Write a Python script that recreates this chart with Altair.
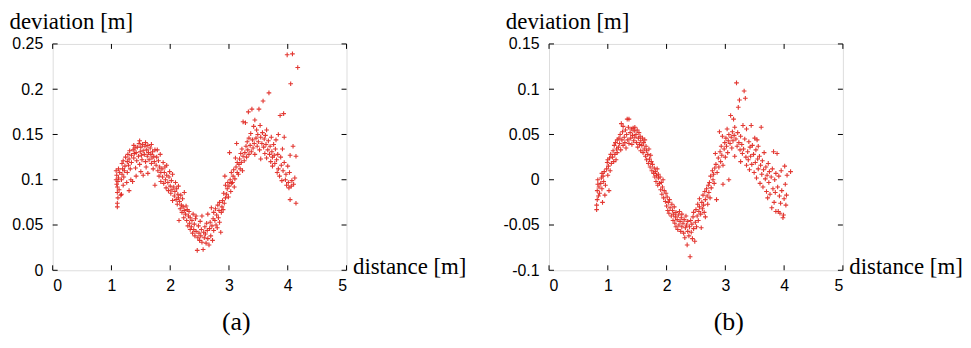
import altair as alt
import pandas as pd

# ---------------- data ----------------
a_dist = [
    1.08, 1.08, 1.09, 1.09, 1.10, 1.10, 1.10, 1.10, 1.11, 1.11, 1.12, 1.12, 1.13, 1.14,
    1.16, 1.17, 1.17, 1.18, 1.18, 1.19, 1.20, 1.20, 1.21, 1.22, 1.23, 1.24,
    1.26, 1.27, 1.27, 1.28, 1.29, 1.30, 1.30, 1.31, 1.32, 1.33, 1.34, 1.34,
    1.36, 1.37, 1.38, 1.38, 1.39, 1.40, 1.41, 1.42, 1.42, 1.43, 1.44,
    1.46, 1.47, 1.48, 1.48, 1.49, 1.50, 1.50, 1.51, 1.52, 1.53, 1.54, 1.54,
    1.56, 1.57, 1.58, 1.58, 1.59, 1.60, 1.61, 1.62, 1.62, 1.63, 1.64,
    1.66, 1.67, 1.68, 1.68, 1.69, 1.70, 1.71, 1.72, 1.73, 1.74, 1.74,
    1.76, 1.77, 1.78, 1.79, 1.80, 1.81, 1.82, 1.83, 1.84, 1.84,
    1.86, 1.87, 1.88, 1.89, 1.90, 1.91, 1.92, 1.93, 1.94, 1.94,
    1.96, 1.97, 1.98, 1.99, 2.00, 2.01, 2.02, 2.03, 2.04, 2.04,
    2.06, 2.07, 2.08, 2.09, 2.10, 2.11, 2.12, 2.13, 2.14, 2.14,
    2.16, 2.17, 2.18, 2.19, 2.20, 2.21, 2.22, 2.23, 2.24, 2.24, 2.15,
    2.26, 2.27, 2.28, 2.29, 2.30, 2.31, 2.32, 2.33, 2.34, 2.34,
    2.36, 2.37, 2.38, 2.39, 2.40, 2.41, 2.42, 2.43, 2.44, 2.44,
    2.46, 2.47, 2.48, 2.49, 2.50, 2.51, 2.52, 2.53, 2.54, 2.54,
    2.56, 2.57, 2.58, 2.59, 2.60, 2.61, 2.62, 2.63, 2.64, 2.64,
    2.66, 2.67, 2.68, 2.69, 2.70, 2.71, 2.72, 2.73, 2.74, 2.74,
    2.76, 2.77, 2.78, 2.79, 2.80, 2.81, 2.82, 2.83, 2.84, 2.84,
    2.86, 2.87, 2.88, 2.89, 2.90, 2.91, 2.92, 2.93, 2.94, 2.94,
    2.96, 2.97, 2.98, 2.99, 3.00, 3.01, 3.02, 3.03, 3.04, 3.04,
    3.06, 3.07, 3.08, 3.09, 3.10, 3.11, 3.12, 3.13, 3.14, 3.14,
    3.16, 3.17, 3.18, 3.19, 3.20, 3.21, 3.22, 3.23, 3.24, 3.24,
    3.26, 3.27, 3.28, 3.29, 3.30, 3.31, 3.32, 3.33, 3.34, 3.34,
    3.36, 3.37, 3.38, 3.39, 3.40, 3.41, 3.42, 3.43, 3.44, 3.44,
    3.46, 3.47, 3.48, 3.49, 3.50, 3.51, 3.52, 3.53, 3.54, 3.54,
    3.56, 3.57, 3.58, 3.59, 3.60, 3.61, 3.62, 3.63, 3.64, 3.64,
    3.66, 3.67, 3.68, 3.69, 3.70, 3.71, 3.72, 3.73, 3.74, 3.74,
    3.76, 3.77, 3.78, 3.79, 3.80, 3.81, 3.82, 3.83, 3.84, 3.84,
    3.86, 3.87, 3.88, 3.89, 3.90, 3.91, 3.92, 3.93, 3.94, 3.94,
    3.96, 3.97, 3.98, 3.99, 4.00, 4.01, 4.02, 4.03, 4.04, 4.04,
    4.05, 4.06, 4.07, 4.08, 4.09, 4.10, 4.12, 4.14, 4.14, 4.17,
]
a_dev = [
    0.100, 0.110, 0.095, 0.105, 0.070, 0.074, 0.086, 0.092, 0.080, 0.098, 0.102, 0.112, 0.089, 0.108,
    0.083, 0.084, 0.100, 0.106, 0.118, 0.112, 0.094, 0.121, 0.103, 0.110, 0.115, 0.125,
    0.097, 0.108, 0.120, 0.128, 0.116, 0.088, 0.123, 0.132, 0.112, 0.100, 0.127, 0.119,
    0.098, 0.133, 0.138, 0.124, 0.129, 0.135, 0.113, 0.104, 0.130, 0.121, 0.136,
    0.126, 0.140, 0.143, 0.117, 0.131, 0.136, 0.109, 0.127, 0.122, 0.139, 0.132, 0.105,
    0.128, 0.137, 0.141, 0.120, 0.114, 0.133, 0.126, 0.107, 0.138, 0.130, 0.122,
    0.135, 0.128, 0.118, 0.139, 0.124, 0.131, 0.112, 0.126, 0.120, 0.094, 0.133,
    0.116, 0.125, 0.133, 0.110, 0.121, 0.104, 0.114, 0.128, 0.108, 0.098,
    0.112, 0.103, 0.119, 0.096, 0.108, 0.114, 0.100, 0.091, 0.105, 0.116,
    0.097, 0.088, 0.103, 0.109, 0.093, 0.085, 0.099, 0.089, 0.106, 0.077,
    0.092, 0.082, 0.087, 0.097, 0.078, 0.090, 0.073, 0.084, 0.080, 0.093,
    0.076, 0.068, 0.083, 0.072, 0.064, 0.079, 0.070, 0.058, 0.066, 0.086, 0.055,
    0.062, 0.071, 0.055, 0.067, 0.049, 0.060, 0.065, 0.052, 0.058, 0.045,
    0.048, 0.055, 0.041, 0.062, 0.045, 0.051, 0.038, 0.057, 0.043, 0.060,
    0.022, 0.036, 0.049, 0.041, 0.033, 0.054, 0.038, 0.045, 0.031, 0.060,
    0.023, 0.042, 0.036, 0.048, 0.040, 0.030, 0.052, 0.044, 0.062, 0.035,
    0.028, 0.046, 0.053, 0.038, 0.069, 0.049, 0.033, 0.057, 0.044, 0.064,
    0.055, 0.068, 0.050, 0.061, 0.047, 0.072, 0.058, 0.066, 0.053, 0.075,
    0.042, 0.064, 0.070, 0.077, 0.067, 0.085, 0.074, 0.104, 0.080, 0.094,
    0.084, 0.090, 0.097, 0.081, 0.093, 0.130, 0.100, 0.087, 0.108, 0.096,
    0.097, 0.104, 0.111, 0.092, 0.101, 0.124, 0.114, 0.140, 0.108, 0.119,
    0.106, 0.117, 0.123, 0.112, 0.129, 0.119, 0.134, 0.110, 0.126, 0.164,
    0.121, 0.130, 0.163, 0.137, 0.125, 0.142, 0.133, 0.175, 0.146, 0.128,
    0.138, 0.151, 0.131, 0.178, 0.144, 0.135, 0.159, 0.140, 0.166, 0.128,
    0.146, 0.155, 0.137, 0.150, 0.142, 0.178, 0.133, 0.160, 0.147, 0.123,
    0.140, 0.152, 0.187, 0.136, 0.145, 0.129, 0.149, 0.139, 0.124, 0.155,
    0.133, 0.143, 0.196, 0.128, 0.137, 0.120, 0.147, 0.131, 0.115, 0.125,
    0.139, 0.127, 0.118, 0.134, 0.144, 0.122, 0.108, 0.128, 0.150, 0.112,
    0.104, 0.171, 0.125, 0.116, 0.099, 0.134, 0.110, 0.173, 0.119, 0.147,
    0.100, 0.106, 0.094, 0.238, 0.115, 0.097, 0.091, 0.108, 0.078, 0.127,
    0.206, 0.093, 0.099, 0.239, 0.137, 0.095, 0.102, 0.126, 0.074, 0.224,
]

b_dist = [
    0.81, 0.81, 0.82, 0.82, 0.83, 0.83, 0.84, 0.85, 0.86,
    0.88, 0.89, 0.90, 0.90, 0.91, 0.92, 0.93, 0.94, 0.95, 0.96,
    0.98, 0.99, 1.00, 1.00, 1.01, 1.02, 1.03, 1.04, 1.05, 1.06,
    1.08, 1.09, 1.10, 1.11, 1.12, 1.13, 1.14, 1.15, 1.16, 1.16,
    1.18, 1.19, 1.20, 1.21, 1.22, 1.23, 1.24, 1.25, 1.26, 1.26,
    1.28, 1.29, 1.30, 1.31, 1.32, 1.33, 1.34, 1.35, 1.36, 1.36,
    1.38, 1.39, 1.40, 1.41, 1.42, 1.43, 1.44, 1.45, 1.46, 1.46,
    1.48, 1.49, 1.50, 1.51, 1.52, 1.53, 1.54, 1.55, 1.56, 1.56,
    1.58, 1.59, 1.60, 1.61, 1.62, 1.63, 1.64, 1.65, 1.66, 1.66,
    1.68, 1.69, 1.70, 1.71, 1.72, 1.73, 1.74, 1.75, 1.76,
    1.78, 1.79, 1.80, 1.81, 1.82, 1.83, 1.84, 1.85, 1.86, 1.86,
    1.88, 1.89, 1.90, 1.91, 1.92, 1.93, 1.94, 1.95, 1.96,
    1.98, 1.99, 2.00, 2.01, 2.02, 2.03, 2.04, 2.05, 2.06,
    2.08, 2.09, 2.10, 2.11, 2.12, 2.13, 2.14, 2.15, 2.16, 2.16,
    2.18, 2.19, 2.20, 2.21, 2.22, 2.23, 2.24, 2.25, 2.26, 2.26,
    2.28, 2.29, 2.30, 2.31, 2.32, 2.33, 2.34, 2.35, 2.36, 2.36,
    2.38, 2.39, 2.40, 2.41, 2.42, 2.43, 2.44, 2.45, 2.46, 2.46,
    2.48, 2.49, 2.50, 2.51, 2.52, 2.53, 2.54, 2.55, 2.56, 2.56,
    2.58, 2.59, 2.60, 2.61, 2.62, 2.63, 2.64, 2.65, 2.66, 2.66,
    2.68, 2.69, 2.70, 2.71, 2.72, 2.73, 2.74, 2.75, 2.76,
    2.78, 2.79, 2.80, 2.81, 2.82, 2.83, 2.84, 2.85, 2.86,
    2.88, 2.89, 2.90, 2.91, 2.92, 2.93, 2.94, 2.95, 2.96, 2.96,
    2.98, 2.99, 3.00, 3.01, 3.02, 3.03, 3.04, 3.05, 3.06, 3.06,
    3.08, 3.09, 3.10, 3.11, 3.12, 3.13, 3.14, 3.15, 3.16, 3.16,
    3.18, 3.19, 3.20, 3.21, 3.22, 3.23, 3.24, 3.25, 3.26, 3.26,
    3.28, 3.29, 3.30, 3.31, 3.32, 3.33, 3.34, 3.35, 3.36, 3.36,
    3.38, 3.39, 3.40, 3.41, 3.42, 3.43, 3.44, 3.45, 3.46,
    3.48, 3.49, 3.50, 3.51, 3.52, 3.53, 3.54, 3.55, 3.56, 3.56,
    3.58, 3.59, 3.60, 3.61, 3.62, 3.63, 3.64, 3.65, 3.66,
    3.68, 3.69, 3.70, 3.71, 3.72, 3.73, 3.74, 3.75, 3.76,
    3.78, 3.79, 3.80, 3.81, 3.82, 3.83, 3.84, 3.85, 3.86, 3.86,
    3.88, 3.89, 3.90, 3.91, 3.92, 3.93, 3.94, 3.95, 3.96,
    3.98, 3.99, 4.00, 4.01, 4.02, 4.03, 4.04, 4.05, 4.11,
]
b_dev = [
    -0.033, -0.028, -0.022, -0.012, -0.005, 0.000, -0.018, -0.008, -0.015,
    -0.004, 0.002, 0.007, -0.010, -0.025, 0.004, -0.002, 0.009, -0.017, -0.006,
    0.012, 0.019, 0.005, 0.022, 0.015, -0.012, 0.024, 0.010, 0.028, 0.018,
    0.025, 0.032, 0.020, 0.038, 0.028, 0.041, 0.022, 0.034, 0.044, 0.030,
    0.036, 0.046, 0.040, 0.050, 0.033, 0.062, 0.044, 0.053, 0.038, 0.059,
    0.047, 0.041, 0.055, 0.035, 0.050, 0.067, 0.044, 0.058, 0.067, 0.040,
    0.052, 0.046, 0.056, 0.039, 0.049, 0.057, 0.043, 0.054, 0.058, 0.047,
    0.050, 0.041, 0.055, 0.036, 0.046, 0.052, 0.039, 0.048, 0.032, 0.043,
    0.038, 0.046, 0.030, 0.041, 0.034, 0.044, 0.026, 0.037, 0.022, 0.032,
    0.028, 0.018, 0.034, 0.023, 0.014, 0.027, 0.020, 0.010, 0.017,
    0.007, 0.013, 0.003, 0.009, -0.002, 0.005, 0.012, -0.006, 0.002, 0.006,
    -0.004, 0.003, -0.011, -0.003, -0.016, -0.008, 0.000, -0.020, -0.012,
    -0.024, -0.015, -0.029, -0.019, -0.034, -0.025, -0.037, -0.022, -0.031,
    -0.040, -0.027, -0.034, -0.045, -0.038, -0.030, -0.048, -0.041, -0.036, -0.052,
    -0.044, -0.055, -0.039, -0.050, -0.035, -0.046, -0.057, -0.042, -0.052, -0.038,
    -0.048, -0.059, -0.044, -0.064, -0.053, -0.040, -0.050, -0.072, -0.057, -0.046,
    -0.062, -0.052, -0.085, -0.045, -0.058, -0.049, -0.065, -0.041, -0.054, -0.036,
    -0.068, -0.047, -0.033, -0.052, -0.040, -0.027, -0.045, -0.035, -0.021, -0.030,
    -0.038, -0.053, -0.025, -0.032, -0.017, -0.028, -0.036, -0.013, -0.022, -0.041,
    -0.010, -0.018, -0.027, -0.006, -0.014, -0.003, -0.020, 0.004, -0.009,
    0.010, 0.000, 0.006, -0.004, 0.013, 0.029, 0.017, -0.022, 0.008,
    0.024, 0.014, 0.053, 0.031, 0.020, 0.037, 0.027, 0.048, 0.016, -0.005,
    0.034, 0.041, 0.025, 0.046, 0.037, 0.056, 0.030, 0.043, 0.050, 0.000,
    0.040, 0.071, 0.047, 0.035, 0.053, 0.043, 0.067, 0.049, 0.026, 0.058,
    0.045, 0.107, 0.037, 0.052, 0.080, 0.041, 0.088, 0.033, 0.048, 0.020,
    0.039, 0.029, 0.060, 0.034, 0.098, 0.045, 0.090, 0.025, 0.056, 0.016,
    0.031, 0.022, 0.042, 0.011, 0.036, 0.026, 0.060, 0.017, 0.038,
    0.028, 0.008, 0.046, 0.019, 0.033, 0.002, 0.044, 0.023, 0.012, 0.037,
    0.026, -0.004, 0.016, 0.058, 0.006, 0.021, -0.008, 0.011, 0.030,
    0.001, 0.014, -0.013, 0.005, -0.020, 0.018, -0.003, 0.009, -0.016,
    0.003, -0.031, 0.012, -0.010, 0.031, -0.025, 0.000, -0.014, 0.007, -0.035,
    0.029, -0.008, -0.035, 0.004, -0.018, -0.037, -0.026, 0.010, -0.012,
    -0.042, -0.039, -0.021, 0.015, -0.005, -0.028, -0.017, 0.005, 0.009,
]

x_ticks = [0, 1, 2, 3, 4, 5]
a_y_ticks = [0, 0.05, 0.1, 0.15, 0.2, 0.25]
b_y_ticks = [-0.1, -0.05, 0, 0.05, 0.1, 0.15]

# ---------------- style ----------------
W, H = 296, 228
TICK = 5
RED = "#e0231c"
SANS = "Liberation Sans"
SERIF = "Liberation Serif"
PLUS = "M-1,0L1,0M0,-1L0,1"


def panel(dist, dev, yticks, label, dx):
    df = pd.DataFrame({"distance": dist, "deviation": dev})
    ymin, ymax = yticks[0], yticks[-1]
    xscale = alt.Scale(domain=[0, 5], nice=False, zero=False)
    yscale = alt.Scale(domain=[ymin, ymax], nice=False, zero=False)

    x_axis = alt.Axis(
        values=x_ticks, domain=False, grid=False, ticks=False,
        labelPadding=7, labelFont=SANS, labelFontSize=16, labelColor="black",
        title="distance [m]", titleFont=SERIF, titleFontSize=23,
        titleFontWeight="normal", titleColor="black",
        titleAnchor="start", titleAlign="left", titleBaseline="alphabetic",
        titleX=W + 6, titleY=3, titleAngle=0,
    )
    y_axis = alt.Axis(
        values=yticks, domain=False, grid=False, ticks=False,
        labelPadding=10, labelFont=SANS, labelFontSize=16, labelColor="black",
        labelExpr="replace(format(datum.value, '~g'), '\u2212', '-')",
        title="deviation [m]", titleFont=SERIF, titleFontSize=23,
        titleFontWeight="normal", titleColor="black",
        titleAnchor="start", titleAlign="left", titleBaseline="alphabetic",
        titleX=-44, titleY=-16, titleAngle=0,
    )

    pts = alt.Chart(df).mark_point(
        shape=PLUS, filled=False, stroke=RED, strokeWidth=1.1, size=22, opacity=0.9
    ).encode(
        x=alt.X("distance:Q", scale=xscale, axis=x_axis),
        y=alt.Y("deviation:Q", scale=yscale, axis=y_axis),
    )

    xt = pd.DataFrame({"t": x_ticks})
    yt = pd.DataFrame({"t": yticks})
    tick_bottom = alt.Chart(xt).mark_rule(color="black", strokeWidth=1).encode(
        x=alt.X("t:Q", scale=xscale, axis=x_axis), y=alt.value(H), y2=alt.value(H - TICK))
    tick_top = alt.Chart(xt).mark_rule(color="black", strokeWidth=1).encode(
        x=alt.X("t:Q", scale=xscale, axis=x_axis), y=alt.value(0), y2=alt.value(TICK))
    tick_left = alt.Chart(yt).mark_rule(color="black", strokeWidth=1).encode(
        y=alt.Y("t:Q", scale=yscale, axis=y_axis), x=alt.value(0), x2=alt.value(TICK))
    tick_right = alt.Chart(yt).mark_rule(color="black", strokeWidth=1).encode(
        y=alt.Y("t:Q", scale=yscale, axis=y_axis), x=alt.value(W), x2=alt.value(W - TICK))

    return alt.layer(pts, tick_bottom, tick_top, tick_left, tick_right).properties(
        width=W, height=H,
        title=alt.TitleParams(
            label, orient="bottom", anchor="middle", font=SERIF, fontSize=26,
            fontWeight="normal", color="black", dx=dx, offset=16,
        ),
    )


chart = alt.hconcat(
    panel(a_dist, a_dev, a_y_ticks, "(a)", 37),
    panel(b_dist, b_dev, b_y_ticks, "(b)", 33),
    spacing=36,
).configure_view(
    stroke="#222222", strokeWidth=1.5
).configure(
    padding={"left": 0, "top": 0, "right": 0, "bottom": 0}
)

chart.save("out.html", embed_options={"renderer": "svg", "actions": False})
